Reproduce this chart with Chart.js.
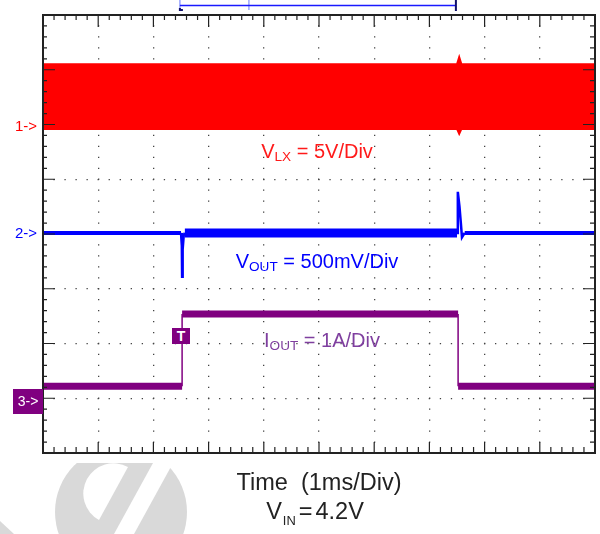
<!DOCTYPE html>
<html>
<head>
<meta charset="utf-8">
<script src="https://cdn.jsdelivr.net/npm/chart.js@4.4.1/dist/chart.umd.min.js"></script>
<style>
  html, body { margin: 0; padding: 0; background: #fff; overflow: hidden; }
  #wrap { position: relative; width: 600px; height: 534px; font-family: "Liberation Sans", Arial, sans-serif; }
  #scope { position: absolute; left: 0; top: 0; }
  .lbl { position: absolute; white-space: nowrap; line-height: 1; }
  .ctr { transform: translateX(-50%); }
  .lbl sub { font-size: 0.68em; vertical-align: baseline; position: relative; top: 0.22em; }
  .mark { font-size: 15px; }
  .box3 { position: absolute; left: 13px; top: 389px; width: 30px; height: 25px; background: #800080; color: #fff; font-size: 14px; line-height: 25px; text-align: center; }
  .tbox { position: absolute; left: 172px; top: 328px; width: 18px; height: 16px; background: #800080; color: #fff; font-size: 14px; font-weight: bold; line-height: 16px; text-align: center; }
</style>
</head>
<body>
<div id="wrap">
  <canvas id="scope" width="600" height="534"></canvas>
  <div class="lbl mark" style="left:15px;top:118px;color:#ff0000">1-&gt;</div>
  <div class="lbl mark" style="left:15px;top:225px;color:#0000ff">2-&gt;</div>
  <div class="box3">3-&gt;</div>
  <div class="tbox">T</div>
  <div class="lbl ctr" style="left:317px;top:141px;color:#ff1a1a;font-size:20px">V<sub>LX</sub> = 5V/Div</div>
  <div class="lbl ctr" style="left:317px;top:251px;color:#0000ff;font-size:20px">V<sub>OUT</sub> = 500mV/Div</div>
  <div class="lbl ctr" style="left:322px;top:330px;color:#7f3f9f;font-size:20px">I<sub>OUT</sub> = 1A/Div</div>
  <div class="lbl ctr" style="left:319px;top:471px;color:#222;font-size:23.5px">Time&nbsp; (1ms/Div)</div>
  <div class="lbl ctr" style="left:315px;top:500px;color:#222;font-size:23.5px">V<sub style="font-size:0.55em;top:0.45em;margin:0 3px 0 1px">IN</sub>=<span style="margin-left:3px">4.2V</span></div>
</div>
<script>
// screen: 10 div x 8 div, time in ms (1 ms/div)
const timeDivs = 10;
const ampDivs = 8;

// CH1 V_LX in volts
const vlxTime = [0, 7.50, 7.54, 7.58, 10];
const vlxTop = [5.65, 5.65, 6.30, 5.65, 5.65];
const vlxBottom = [-0.25, -0.25, -0.70, -0.25, -0.25];

// CH2 V_OUT in mV (ac coupled)
const voutTime = [0, 2.50, 2.515, 2.52, 2.53, 2.55, 2.57, 7.50, 7.515, 7.545, 7.57, 7.59, 7.64, 10];
const voutMv = [0, 0, -120, -400, -150, -20, 0, 0, 375, 240, 90, -40, 0, 0];

// CH3 I_OUT in A
const ioutTime = [0, 2.52, 2.52, 7.52, 7.52, 10];
const ioutAmp = [0.25, 0.25, 1.57, 1.57, 0.25, 0.25];

// probe settings: units per division and ground marker position (div from bottom)
const ch1 = { perDiv: 5, ground: 5.97 };
const ch2 = { perDiv: 500, ground: 4.02 };
const ch3 = { perDiv: 1, ground: 0.97 };

// memory window bracket above the screen (ms)
const windowStart = 2.48;
const windowEnd = 7.48;
const windowMark = 3.73;

function toPoints(times, values, ch) {
  return times.map((t, i) => ({ x: t, y: ch.ground + values[i] / ch.perDiv }));
}

const watermark = {
  id: 'watermark',
  beforeDraw(chart) {
    const ctx = chart.ctx;
    ctx.save();
    ctx.fillStyle = '#d9d9d9';
    ctx.beginPath();
    ctx.moveTo(0, 521); ctx.lineTo(14, 534); ctx.lineTo(0, 534);
    ctx.fill();
    ctx.beginPath();
    ctx.rect(0, 463, 600, 71);
    ctx.clip();
    ctx.beginPath();
    ctx.arc(121, 512, 66, 0, Math.PI * 2);
    ctx.fill();
    ctx.fillStyle = '#fff';
    const a0 = Math.atan2(467 - 493.5, 128 - 113.5);
    ctx.beginPath();
    ctx.arc(113.5, 493.5, 30.2, a0, a0 - Math.PI, true);
    ctx.closePath();
    ctx.fill();
    ctx.beginPath();
    ctx.moveTo(153, 463); ctx.lineTo(173, 463); ctx.lineTo(134, 534); ctx.lineTo(114, 534);
    ctx.closePath();
    ctx.fill();
    ctx.restore();
  }
};

const scopeFrame = {
  id: 'scopeFrame',
  afterDraw(chart) {
    const { ctx, chartArea: a, scales: { x, y } } = chart;
    ctx.save();
    ctx.strokeStyle = '#222';
    ctx.lineWidth = 1.2;
    ctx.beginPath();
    for (let i = 0; i <= timeDivs * 5; i++) {
      const px = x.getPixelForValue(i / 5);
      const major = i % 5 === 0;
      ctx.moveTo(px, a.top); ctx.lineTo(px, a.top + (major ? 12 : 5));
      ctx.moveTo(px, a.bottom); ctx.lineTo(px, a.bottom - (major ? 11 : 6));
    }
    for (let i = 0; i <= ampDivs * 5; i++) {
      const py = y.getPixelForValue(i / 5);
      const major = i % 5 === 0;
      ctx.moveTo(a.left, py); ctx.lineTo(a.left + (major ? 12 : 4), py);
      ctx.moveTo(a.right, py); ctx.lineTo(a.right - (major ? 12 : 5), py);
    }
    ctx.stroke();
    ctx.lineWidth = 2;
    ctx.strokeRect(a.left, a.top, a.right - a.left, a.bottom - a.top);

    // bracket
    const x0 = x.getPixelForValue(windowStart);
    const x1 = x.getPixelForValue(windowEnd);
    const xm = x.getPixelForValue(windowMark);
    ctx.lineWidth = 1.5;
    ctx.strokeStyle = '#9aa6ff';
    ctx.beginPath();
    ctx.moveTo(x0, 0); ctx.lineTo(x0, 10);
    ctx.moveTo(xm, 0); ctx.lineTo(xm, 10);
    ctx.stroke();
    ctx.strokeStyle = '#1a1aff';
    ctx.beginPath();
    ctx.moveTo(x0, 5.5); ctx.lineTo(x1, 5.5);
    ctx.stroke();
    ctx.strokeStyle = '#10106a';
    ctx.lineWidth = 2;
    ctx.beginPath();
    ctx.moveTo(x1, 0); ctx.lineTo(x1, 11);
    ctx.moveTo(x0, 8); ctx.lineTo(x0, 10); ctx.lineTo(x0 + 3, 10);
    ctx.stroke();
    ctx.restore();
  }
};

function initScope() {
  const canvas = document.getElementById('scope');

  new Chart(canvas, {
    type: 'line',
    data: {
      datasets: [
        {
          label: 'VLX top',
          data: toPoints(vlxTime, vlxTop, ch1),
          borderColor: '#ff0000',
          backgroundColor: '#ff0000',
          borderWidth: 2,
          fill: '+1'
        },
        {
          label: 'VLX bottom',
          data: toPoints(vlxTime, vlxBottom, ch1),
          borderColor: '#ff0000',
          borderWidth: 2,
          fill: false
        },
        {
          label: 'VOUT',
          data: toPoints(voutTime, voutMv, ch2),
          borderColor: '#0000ff',
          fill: false,
          segment: {
            borderWidth: (c) => {
              const dx = c.p1.parsed.x - c.p0.parsed.x;
              if (dx < 0.1) return 2.5;
              if (c.p0.parsed.x >= 2.55 && c.p1.parsed.x <= 7.51) return 9;
              return 4;
            }
          }
        },
        {
          label: 'IOUT',
          data: toPoints(ioutTime, ioutAmp, ch3),
          borderColor: '#800080',
          fill: false,
          segment: {
            borderWidth: (c) => (c.p1.parsed.x - c.p0.parsed.x < 0.01 ? 1.5 : 7)
          }
        }
      ]
    },
    options: {
      responsive: false,
      animation: false,
      layout: { padding: { left: 43, right: 5, top: 15, bottom: 81 } },
      elements: { point: { radius: 0 }, line: { tension: 0, borderCapStyle: 'butt' } },
      plugins: {
        legend: { display: false },
        tooltip: { enabled: false }
      },
      scales: {
        x: {
          type: 'linear',
          min: 0,
          max: timeDivs,
          ticks: { display: false, stepSize: 1 },
          grid: { color: '#444', lineWidth: 1.3, drawTicks: false },
          border: { display: false, dash: [1.3, 9.65], dashOffset: 0.65 }
        },
        y: {
          type: 'linear',
          min: 0,
          max: ampDivs,
          ticks: { display: false, stepSize: 1 },
          grid: { color: '#444', lineWidth: 1.3, drawTicks: false },
          border: { display: false, dash: [1.3, 9.74], dashOffset: 0.65 }
        }
      }
    },
    plugins: [watermark, scopeFrame]
  });
}

document.addEventListener('DOMContentLoaded', () => {
  initScope();
});
</script>
</body>
</html>
